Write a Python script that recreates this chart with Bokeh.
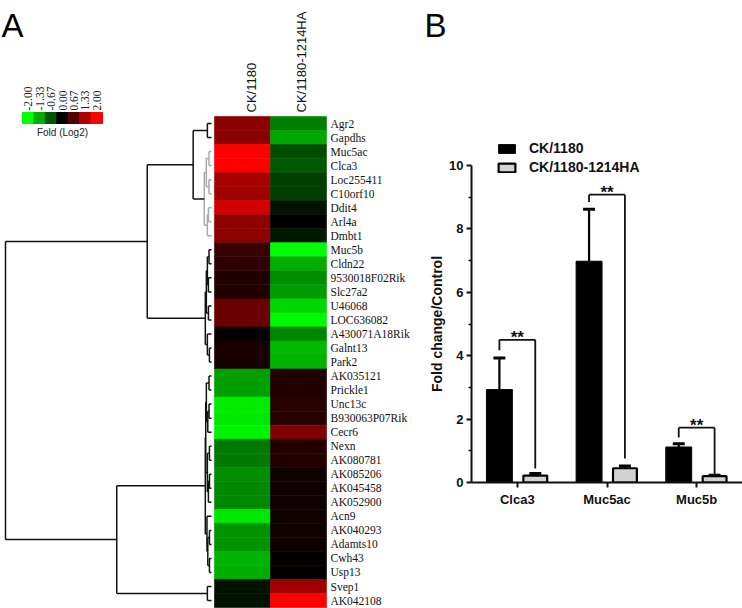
import math
from bokeh.plotting import figure
from bokeh.models import (Range1d, ColumnDataSource, LinearColorMapper, FixedTicker,
                          Legend, LegendItem)
from bokeh.layouts import row
from bokeh.core.properties import value
from bokeh.embed import file_html
from bokeh.resources import INLINE

# ---------------- data: panel A (heatmap) ----------------
genes = ["Agr2", "Gapdhs", "Muc5ac", "Clca3", "Loc255411", "C10orf10", "Ddit4", "Arl4a",
         "Dmbt1", "Muc5b", "Cldn22", "9530018F02Rik", "Slc27a2", "U46068", "LOC636082",
         "A430071A18Rik", "Galnt13", "Park2", "AK035121", "Prickle1", "Unc13c",
         "B930063P07Rik", "Cecr6", "Nexn", "AK080781", "AK085206", "AK045458", "AK052900",
         "Acn9", "AK040293", "Adamts10", "Cwh43", "Usp13", "Svep1", "AK042108"]
samples = ["CK/1180", "CK/1180-1214HA"]
ck1180 = [1.08, 1.08, 2.0, 2.0, 1.3, 1.25, 1.65, 1.12, 1.12, 0.45, 0.38, 0.25, 0.25, 0.83,
          0.83, 0.06, 0.2, 0.2, -1.25, -1.25, -1.85, -1.8, -1.9, -0.95, -0.95, -1.1, -1.05,
          -1.05, -1.8, -1.15, -1.15, -1.4, -1.35, -0.15, -0.15]
ck1180_1214ha = [-1.0, -1.3, -0.6, -0.7, -0.5, -0.5, -0.15, 0.0, -0.2, -2.0, -1.35, -1.1,
                 -1.25, -1.7, -1.95, -1.05, -1.45, -1.4, 0.28, 0.28, 0.3, 0.3, 1.0, 0.28,
                 0.28, 0.12, 0.12, 0.12, 0.12, 0.12, 0.12, 0.03, 0.03, 1.25, 2.0]
scale_ticks = [-2.0, -1.33, -0.67, 0.0, 0.67, 1.33, 2.0]
scale_labels = ["-2.00", "-1.33", "-0.67", "0.00", "0.67", "1.33", "2.00"]
scale_title = "Fold (Log2)"
# hierarchical clustering merges (child a, child b, distance); ids >= 35 are earlier merges
linkage = [
    (0, 1, 0.02), (2, 3, 0.012), (4, 5, 0.012), (36, 37, 0.025), (6, 7, 0.015),
    (39, 8, 0.02), (38, 40, 0.035), (35, 41, 0.089), (9, 10, 0.012), (11, 12, 0.015),
    (43, 44, 0.02), (13, 14, 0.015), (45, 46, 0.025), (16, 17, 0.01), (15, 48, 0.02),
    (47, 49, 0.03), (42, 50, 0.312), (18, 19, 0.012), (20, 21, 0.012), (53, 22, 0.018),
    (52, 54, 0.025), (23, 24, 0.01), (25, 26, 0.01), (57, 27, 0.015), (56, 58, 0.02),
    (55, 59, 0.028), (29, 30, 0.01), (31, 32, 0.01), (61, 62, 0.018), (28, 63, 0.022),
    (60, 64, 0.03), (33, 34, 0.02), (65, 66, 0.46), (51, 67, 1.0)]
gray_nodes = [36, 37, 38, 39, 40, 41]

# ---------------- data: panel B (bars) ----------------
bar_genes = ["Clca3", "Muc5ac", "Muc5b"]
series = ["CK/1180", "CK/1180-1214HA"]
ck_mean = [2.93, 6.98, 1.12]
ck_err = [1.0, 1.64, 0.10]
ha_mean = [0.22, 0.45, 0.20]
ha_err = [0.06, 0.07, 0.03]
sig_text = ["**", "**", "**"]
sig_top = [4.5, 9.08, 1.73]
sig_left_bottom = [4.17, 8.85, 1.42]
sig_right_bottom = [0.44, 0.76, 0.25]
y_ticks = [0, 2, 4, 6, 8, 10]
y_minor = [1, 3, 5, 7, 9]
y_title = "Fold change/Control"

# ---------------- layout constants (page pixels) ----------------
PAGE_W, FIG_H = 742, 608
A_W = 446
HM_LEFT, HM_TOP, CELL_W, CELL_H = 214, 116, 56, 14.03
LEAF_X, ROOT_X = 211, 5
AX_X, AX_Y0 = 470, 482
X0_PX, CAT_PX, Y_PX = 471, 90, 31.7
SANS = "Liberation Sans"
SERIF = "Liberation Serif"

# colour map: green - black - red
pal = []
for i in range(256):
    t = i / 255 * 2 - 1
    r = int(round(max(t, 0) * 255))
    g = int(round(max(-t, 0) * 255))
    pal.append("#%02x%02x00" % (r, g))
mapper = LinearColorMapper(palette=pal, low=-2, high=2)

# ---------------- panel A ----------------
xs = -0.5 - HM_LEFT / CELL_W
ye = -0.5 - HM_TOP / CELL_H
pa = figure(width=A_W, height=FIG_H, title=None,
            x_range=Range1d(xs, xs + A_W / CELL_W),
            y_range=Range1d(ye + FIG_H / CELL_H, ye),
            x_axis_location=None, y_axis_location=None,
            output_backend="svg", toolbar_location=None, min_border=0)
pa.frame_align = False
pa.grid.visible = False
pa.outline_line_color = None
unit = LEAF_X - ROOT_X
pa.extra_x_ranges = {"dist": Range1d(LEAF_X / unit, (LEAF_X - A_W) / unit),
                     "px": Range1d(0, A_W)}
pa.extra_y_ranges = {"px": Range1d(FIG_H, 0)}

n = len(genes)
rows = list(range(n))
hm = ColumnDataSource(dict(x=[0] * n + [1] * n, y=rows + rows, v=ck1180 + ck1180_1214ha))
pa.rect(x="x", y="y", width=1, height=1, source=hm,
        fill_color={"field": "v", "transform": mapper},
        line_color={"field": "v", "transform": mapper}, line_width=0.6)

pa.text(x=[1.5] * n, y=rows, text=genes, x_offset=4, text_baseline="middle",
        text_font=value(SERIF), text_font_size="11.5px", text_color="#111111")
pa.text(x=[0, 1], y=[-0.5, -0.5], text=samples, angle=math.pi / 2, x_offset=[9, 3],
        y_offset=-4, text_align="left", text_baseline="middle", text_font=value(SANS),
        text_font_size="13px", text_color="#111111")

# dendrogram
node_x = {i: 0.0 for i in range(n)}
node_y = {i: float(i) for i in range(n)}
seg = dict(x0=[], y0=[], x1=[], y1=[], c=[])
for k, (a, b, d) in enumerate(linkage):
    nid = n + k
    ya, yb = node_y[a], node_y[b]
    node_x[nid] = d
    node_y[nid] = (ya + yb) / 2
    c = "#a8a8a8" if nid in gray_nodes else "#111111"
    for x0, y0, x1, y1 in [(node_x[a], ya, d, ya), (node_x[b], yb, d, yb), (d, ya, d, yb)]:
        seg["x0"].append(x0); seg["y0"].append(y0)
        seg["x1"].append(x1); seg["y1"].append(y1); seg["c"].append(c)
pa.segment(x0="x0", y0="y0", x1="x1", y1="y1", color="c", line_width=1.5,
           source=ColumnDataSource(seg), x_range_name="dist")

# colour scale legend
SW_X0, SW_W, SW_Y, SW_H = 22, 80 / 7, 117.5, 11
sw_x = [SW_X0 + SW_W * (i + 0.5) for i in range(len(scale_ticks))]
sw_src = ColumnDataSource(dict(x=sw_x, y=[SW_Y] * len(sw_x), v=scale_ticks))
pa.rect(x="x", y="y", width=SW_W, height=SW_H,
        fill_color={"field": "v", "transform": mapper},
        line_color={"field": "v", "transform": mapper},
        source=sw_src, x_range_name="px", y_range_name="px")
pa.text(x=sw_x, y=[SW_Y - SW_H / 2 - 2] * len(sw_x), text=scale_labels, angle=math.pi / 2,
        text_align="left", text_baseline="middle", text_font=value(SERIF),
        text_font_size="11.5px", text_color="#222222", x_range_name="px", y_range_name="px")
pa.text(x=[SW_X0 + 40], y=[132], text=[scale_title], text_align="center",
        text_baseline="middle", text_font=value(SANS), text_font_size="10px",
        text_color="#222222", x_range_name="px", y_range_name="px")
pa.text(x=[1, 424], y=[43, 43], text=["A", "B"], text_font=value(SANS),
        text_font_size="33px", text_color="#000000", x_range_name="px", y_range_name="px")
# y-axis title of panel B (lies in the gap left of B's axis)
pa.text(x=[436], y=[AX_Y0 - 5 * Y_PX], text=[y_title], angle=math.pi / 2,
        text_align="center", text_baseline="middle", text_font=value(SANS),
        text_font_style="bold", text_font_size="14px", text_color="#111111",
        x_range_name="px", y_range_name="px")

# ---------------- panel B ----------------
B_W = PAGE_W - A_W
pb = figure(width=B_W, height=FIG_H, title=None,
            x_range=Range1d((AX_X - X0_PX) / CAT_PX, (PAGE_W - X0_PX) / CAT_PX),
            y_range=Range1d(0, AX_Y0 / Y_PX),
            output_backend="svg", toolbar_location=None,
            min_border_left=AX_X - A_W, min_border_right=0,
            min_border_top=0, min_border_bottom=FIG_H - AX_Y0)
pb.frame_align = False
pb.grid.visible = False
pb.outline_line_color = None

cx = [i + 0.5 for i in range(len(bar_genes))]
off, bw = 18 / CAT_PX, 26 / CAT_PX
bx = [c - off for c in cx]
gx = [c + off for c in cx]
r_ck = pb.vbar(x=bx, top=ck_mean, width=bw, fill_color="black", line_color="black")
r_ha = pb.vbar(x=gx, top=ha_mean, width=bw * 0.92, fill_color="#d3d3d3",
               line_color="black", line_width=2.2)

ex = bx + gx
e_lo = ck_mean + ha_mean
e_hi = [m + e for m, e in zip(ck_mean, ck_err)] + [m + e for m, e in zip(ha_mean, ha_err)]
pb.segment(x0=ex, y0=e_lo, x1=ex, y1=e_hi, line_color="black", line_width=2.2)
cap = 6 / CAT_PX
pb.segment(x0=[x - cap for x in ex], y0=e_hi, x1=[x + cap for x in ex], y1=e_hi,
           line_color="black", line_width=3)

# significance brackets
pb.segment(x0=bx + bx + gx, y0=sig_left_bottom + sig_top + sig_right_bottom,
           x1=bx + gx + gx, y1=sig_top + sig_top + sig_top,
           line_color="#111111", line_width=1.8)
pb.text(x=[(a + b) / 2 for a, b in zip(bx, gx)], y=sig_top, text=sig_text,
        text_align="center", text_baseline="alphabetic", y_offset=-2,
        text_font=value(SANS), text_font_style="bold", text_font_size="17px",
        text_color="#111111")

xa = pb.xaxis[0]
xa.ticker = FixedTicker(ticks=cx, minor_ticks=[])
xa.major_label_overrides = {c: g for c, g in zip(cx, bar_genes)}
ya_ = pb.yaxis[0]
ya_.ticker = FixedTicker(ticks=y_ticks, minor_ticks=y_minor)
ya_.bounds = (0, 10)
for ax in (xa, ya_):
    ax.axis_line_width = 2
    ax.axis_line_color = "#111111"
    ax.major_tick_line_width = 2
    ax.major_tick_line_color = "#111111"
    ax.major_tick_in = 0
    ax.major_tick_out = 5
    ax.minor_tick_in = 0
    ax.minor_tick_out = 3
    ax.minor_tick_line_width = 1.5
    ax.minor_tick_line_color = "#111111"
    ax.major_label_text_font = SANS
    ax.major_label_text_font_style = "bold"
    ax.major_label_text_font_size = "13px"
    ax.major_label_text_color = "#111111"
xa.major_label_standoff = 4
ya_.major_label_standoff = 3

legend = Legend(items=[LegendItem(label=series[0], renderers=[r_ck]),
                       LegendItem(label=series[1], renderers=[r_ha])],
                location=(499 - AX_X - 4, AX_Y0 - 141 - 37 + 3),
                glyph_width=21, glyph_height=11, label_height=11, spacing=3,
                label_standoff=12, padding=0, margin=0,
                border_line_color=None, background_fill_alpha=0,
                label_text_font=SANS, label_text_font_style="bold",
                label_text_font_size="14px", label_text_color="#111111")
pb.add_layout(legend)

layout = row(pa, pb)
open("out.html", "w").write(file_html(layout, INLINE))
